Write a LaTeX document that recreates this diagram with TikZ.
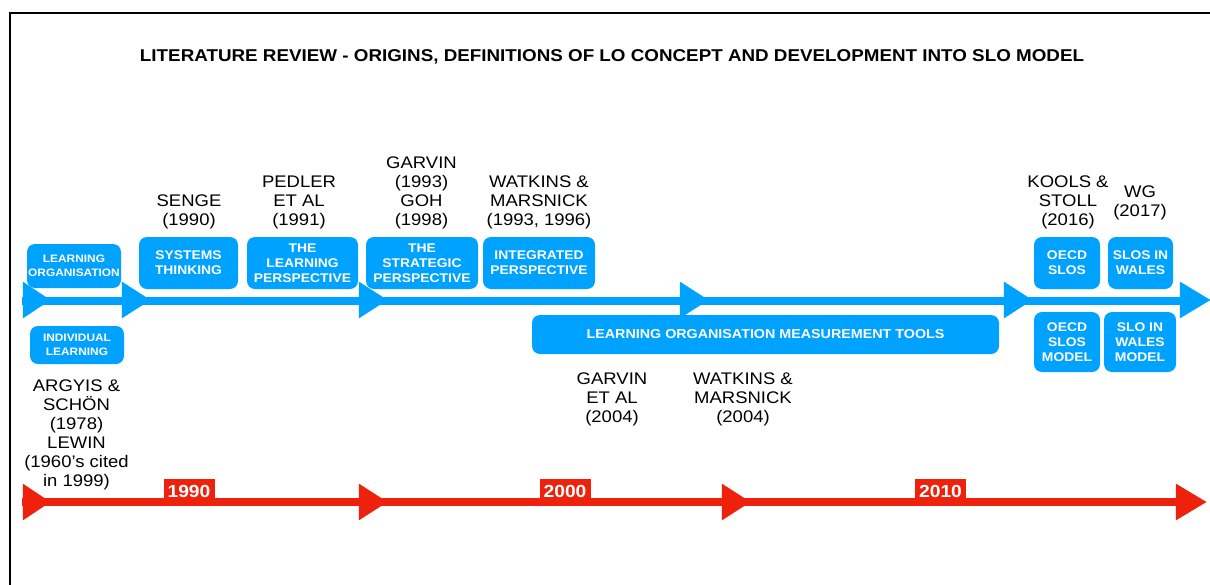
\documentclass[tikz,border=0pt]{standalone}
\usepackage{fontspec}
\setmainfont{Liberation Sans}[FakeStretch=1.1]
\definecolor{tlblue}{RGB}{0,162,255}
\definecolor{tlred}{RGB}{238,34,12}
\tikzset{
  tag/.style={fill=tlblue, rounded corners=8pt, text=white, align=center, inner sep=0pt,
    font=\bfseries\fontsize{12.6}{15}\selectfont},
  smalltag/.style={tag, font=\bfseries\fontsize{10.8}{13.5}\selectfont},
  ref/.style={align=center, inner sep=0pt, font=\fontsize{16.8}{19}\selectfont},
  year/.style={fill=tlred, text=white, inner sep=0pt, minimum width=51pt, text height=18pt, text depth=1pt,
    font=\bfseries\fontsize{17.5}{17}\selectfont},
}
\begin{document}
\begin{tikzpicture}[x=1pt,y=-1pt]
\useasboundingbox (0,0) rectangle (1210,584);
\draw [line width=2pt] (10,590) -- (10,12.5) -- (1215,12.5);

\node (title) [inner sep=0pt, font=\bfseries\fontsize{17.1}{19}\selectfont] at (612,57)
  {LITERATURE REVIEW - ORIGINS, DEFINITIONS OF LO CONCEPT AND DEVELOPMENT INTO SLO MODEL};

\draw [tlblue, line width=8pt] (22,301) -- (1190,301);
\filldraw [tlblue] (23,282) -- (50,300) -- (23,318) -- cycle;
\filldraw [tlblue] (122,282) -- (150,300) -- (122,318) -- cycle;
\filldraw [tlblue] (359,282) -- (387,300) -- (359,318) -- cycle;
\filldraw [tlblue] (680,282) -- (708,300) -- (680,318) -- cycle;
\filldraw [tlblue] (1004,282) -- (1032,300) -- (1004,318) -- cycle;
\filldraw [tlblue] (1180,282) -- (1210,300) -- (1180,318) -- cycle;

\draw [tlred, line width=8pt] (22,502) -- (1180,502);
\filldraw [tlred] (23,484) -- (50,502) -- (23,520) -- cycle;
\filldraw [tlred] (359,484) -- (387,502) -- (359,520) -- cycle;
\filldraw [tlred] (722,484) -- (750,502) -- (722,520) -- cycle;
\filldraw [tlred] (1176,484) -- (1206,502) -- (1176,520) -- cycle;

\node (y1990) [year] at (189,488.5) {1990};
\node (y2000) [year] at (565,488.5) {2000};
\node (y2010) [year] at (940.5,488.5) {2010};

\node (lo) [smalltag, minimum width=94pt, minimum height=44pt] at (74,266) {LEARNING\\ORGANISATION};
\node (il) [smalltag, minimum width=94pt, minimum height=38pt] at (77,345) {INDIVIDUAL\\LEARNING};
\node (systems) [tag, minimum width=99pt, minimum height=52pt] at (188.5,263) {SYSTEMS\\THINKING};
\node (learnp) [tag, minimum width=111pt, minimum height=52pt] at (302.5,263) {THE\\LEARNING\\PERSPECTIVE};
\node (stratp) [tag, minimum width=112pt, minimum height=52pt] at (422,263) {THE\\STRATEGIC\\PERSPECTIVE};
\node (integp) [tag, minimum width=112pt, minimum height=52pt] at (539,263) {INTEGRATED\\PERSPECTIVE};
\node (tools) [tag, minimum width=467pt, minimum height=39pt, font=\bfseries\fontsize{13}{15}\selectfont]
  at (765.5,334.5) {LEARNING ORGANISATION MEASUREMENT TOOLS};
\node (oecd) [tag, minimum width=66pt, minimum height=52pt] at (1067,263) {OECD\\SLOS};
\node (wales) [tag, minimum width=65pt, minimum height=52pt] at (1140.5,263) {SLOS IN\\WALES};
\node (oecdm) [tag, minimum width=66pt, minimum height=60pt] at (1067,342) {OECD\\SLOS\\MODEL};
\node (walesm) [tag, minimum width=72pt, minimum height=60pt] at (1140,342) {SLO IN\\WALES\\MODEL};

\node (senge) [ref] at (189,211.5) {SENGE\\(1990)};
\node (pedler) [ref] at (299,202) {PEDLER\\ET AL\\(1991)};
\node (garvin) [ref] at (421.5,192.5) {GARVIN\\(1993)\\GOH\\(1998)};
\node (watkins) [ref] at (539,202) {WATKINS \&\\MARSNICK\\(1993, 1996)};
\node (kools) [ref] at (1068,202) {KOOLS \&\\STOLL\\(2016)};
\node (wg) [ref] at (1140,203) {WG\\(2017)};
\node (argyis) [ref] at (76.5,435) {ARGYIS \&\\SCHÖN\\(1978)\\LEWIN\\(1960’s cited\\in 1999)};
\node (garvin04) [ref] at (612,399) {GARVIN\\ET AL\\(2004)};
\node (watkins04) [ref] at (743,399) {WATKINS \&\\MARSNICK\\(2004)};
\end{tikzpicture}
\end{document}
